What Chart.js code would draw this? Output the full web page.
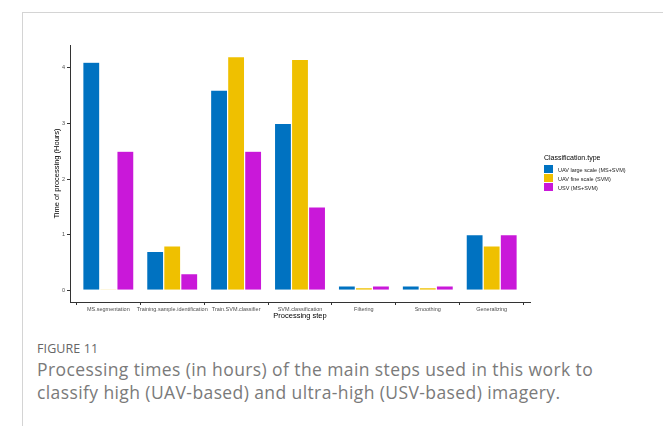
<!DOCTYPE html>
<html>
<head>
<meta charset="utf-8">
<script src="https://cdn.jsdelivr.net/npm/chart.js@4"></script>
<style>
  html, body { margin: 0; padding: 0; background: #fff; }
  body { width: 663px; height: 426px; position: relative; overflow: hidden; }
  #frame { position: absolute; left: 22px; top: 12px; right: -2px; bottom: -2px; border-top: 1px solid #d4d4d4; border-left: 1px solid #d4d4d4; }
  #wrap { position: absolute; left: 0; top: 0; width: 663px; height: 330px; }
  #legend { position: absolute; left: 544px; top: 154px; font-family: "Liberation Sans", Arial, sans-serif; color: #000; }
  #legend .title { font-size: 7px; margin-bottom: 4px; }
  #legend .item { display: flex; align-items: center; height: 9px; font-size: 5.5px; color: #222; }
  #legend .box { width: 9px; height: 8px; margin-right: 5px; border-bottom: 1px solid #fff; }
  #caption { position: absolute; left: 37px; top: 340px; font-family: "Open Sans", Lato, sans-serif; color: #7a7a7a; }
  #caption .fig { font-size: 12.5px; color: #666; margin-bottom: 1px; letter-spacing: 0.1px; }
  #caption .text { font-size: 17.5px; line-height: 23px; letter-spacing: 0.4px; }
</style>
</head>
<body>
<div id="frame"></div>
<div id="wrap"><canvas id="c"></canvas></div>
<div id="legend"></div>
<div id="caption">
  <div class="fig">FIGURE 11</div>
  <div class="text">Processing times (in hours) of the main steps used in this work to<br>classify high (UAV-based) and ultra-high (USV-based) imagery.</div>
</div>
<script>
const steps = ["MS.segmentation", "Training.sample.identification", "Train.SVM.classifier",
  "SVM.classification", "Filtering", "Smoothing", "Generalizing"];
const seriesNames = ["UAV large scale (MS+SVM)", "UAV fine scale (SVM)", "USV (MS+SVM)"];
const uavLarge = [4.1, 0.7, 3.6, 3.0, 0.08, 0.08, 1.0];
const uavFine  = [0.02, 0.8, 4.2, 4.15, 0.05, 0.05, 0.8];
const usv      = [2.5, 0.3, 2.5, 1.5, 0.08, 0.08, 1.0];
const yTicks = [0, 1, 2, 3, 4];
const colors = ["#0072C1", "#EFC000", "#C918D9"];

const tickFont = { family: "Liberation Sans", size: 5.5 };
const titleFont = { family: "Liberation Sans", size: 7.5 };

// discrete axis drawn as linear so the 0.6 ggplot-style side padding can be kept
const chart = new Chart(document.getElementById("c"), {
  type: "bar",
  data: {
    datasets: [uavLarge, uavFine, usv].map((vals, i) => ({
      label: seriesNames[i],
      data: vals.map((v, j) => ({ x: j, y: v })),
      backgroundColor: colors[i],
      borderColor: "#ffffff",
      borderWidth: 0.6,
      categoryPercentage: 0.8,
      barPercentage: 1.0
    }))
  },
  options: {
    responsive: true,
    maintainAspectRatio: false,
    animation: false,
    layout: { padding: { left: 45, top: 45, right: 133, bottom: 10 } },
    plugins: { legend: { display: false }, tooltip: { enabled: false } },
    scales: {
      x: {
        type: "linear",
        min: -0.6,
        max: steps.length - 0.4,
        offset: false,
        grid: { display: true, drawOnChartArea: false, drawTicks: true, tickLength: 3, color: "#333" },
        border: { display: true, color: "#333", width: 1 },
        afterBuildTicks: s => { s.ticks = steps.map((_, i) => ({ value: i })); },
        ticks: { font: tickFont, color: "#4d4d4d", padding: 1, maxRotation: 0, autoSkip: false,
                 callback: v => steps[v] },
        title: { display: true, text: "Processing step", font: titleFont, color: "#000", padding: { top: 0, bottom: 0 } },
        afterFit: s => { s.height = 18; }
      },
      y: {
        min: -0.21,
        max: 4.41,
        grid: { display: true, drawOnChartArea: false, drawTicks: true, tickLength: 3, color: "#333" },
        border: { display: true, color: "#333", width: 1 },
        ticks: { font: tickFont, color: "#4d4d4d", padding: 2 },
        afterBuildTicks: s => { s.ticks = yTicks.map(v => ({ value: v })); },
        title: { display: true, text: "Time of processing (Hours)", font: titleFont, color: "#000", padding: { top: 7, bottom: 0 } },
        afterFit: s => { s.width = 25; }
      }
    }
  }
});

const legend = document.getElementById("legend");
legend.innerHTML = '<div class="title">Classification.type</div>' +
  chart.data.datasets.map(d =>
    '<div class="item"><span class="box" style="background:' + d.backgroundColor + '"></span>' + d.label + '</div>'
  ).join("");
</script>
</body>
</html>
